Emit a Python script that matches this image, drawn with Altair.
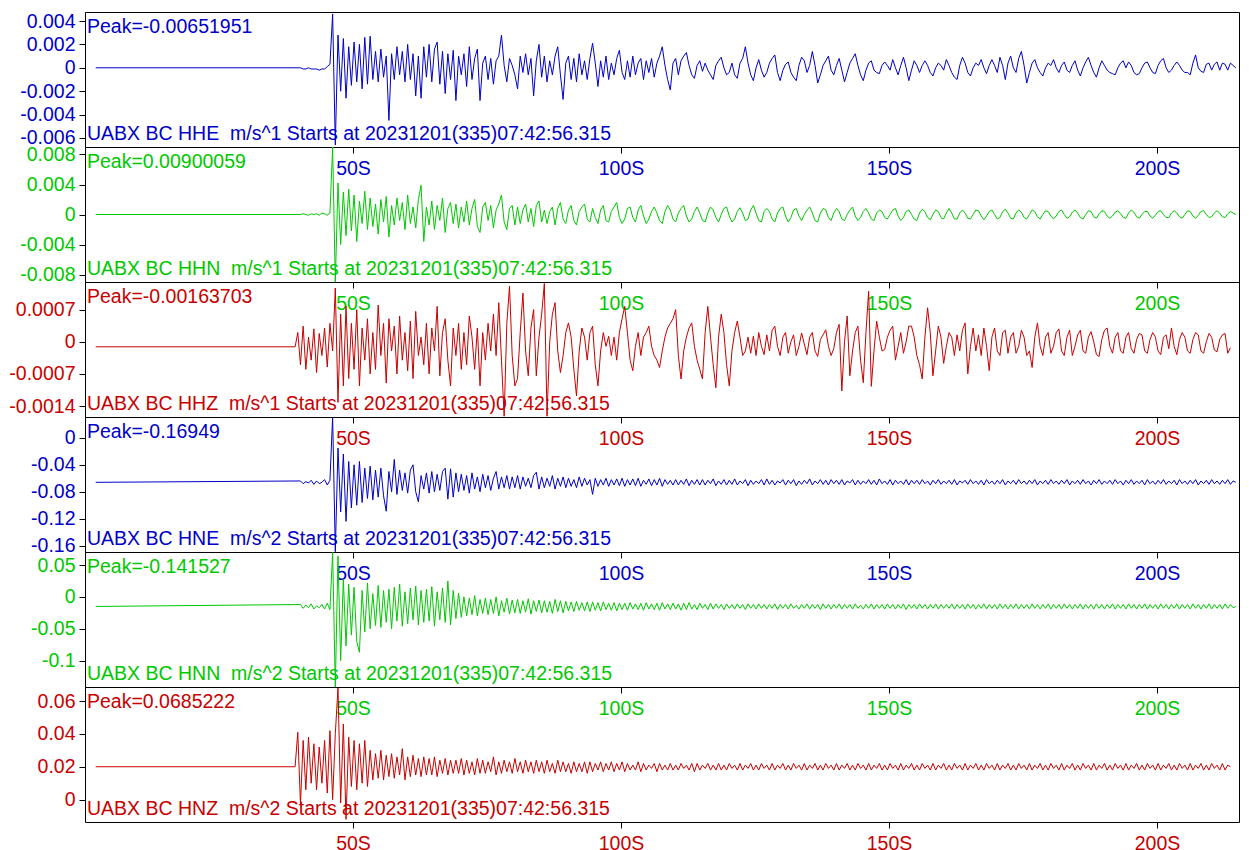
import altair as alt
import pandas as pd

FONT = "Liberation Sans"
FS = 19.5

PANEL_W = 1154
PANEL_H = 135
T_MAX = 215.3          # seconds shown on the x axis
T_FIRST = 2.0          # first sample of the record
DT = 0.5
X_TICKS = [50, 100, 150, 200]

STATION = "UABX BC"
START_TEXT = "Starts at 20231201(335)07:42:56.315"

CHANNELS = ["HHE", "HHN", "HHZ", "HNE", "HNN", "HNZ"]
UNITS = ["m/s^1", "m/s^1", "m/s^1", "m/s^2", "m/s^2", "m/s^2"]
PEAKS = ["-0.00651951", "0.00900059", "-0.00163703", "-0.16949", "-0.141527", "0.0685222"]
COLORS = ["#0000C8", "#00C800", "#C80000", "#0000C8", "#00C800", "#C80000"]
ONSETS = [40.2, 40.2, 39.2, 40.2, 40.2, 39.2]
BASELINES = [0, 0, -11, -66, -15, 20]           # pre-event level, scaled units
SCALES = [1e-4, 1e-4, 1e-5, 1e-3, 1e-3, 1e-3]   # scaled unit -> physical unit
Y_DOMAINS = [
    [-0.00677, 0.00477],
    [-0.0090, 0.0090],
    [-0.001637, 0.00130],
    [-0.16949, 0.031],
    [-0.141527, 0.0705],
    [-0.0136, 0.0685222],
]
Y_TICKS = [
    [0.004, 0.002, 0, -0.002, -0.004, -0.006],
    [0.008, 0.004, 0, -0.004, -0.008],
    [0.0007, 0, -0.0007, -0.0014],
    [0, -0.04, -0.08, -0.12, -0.16],
    [0.05, 0, -0.05, -0.1],
    [0.06, 0.04, 0.02, 0],
]

HHE_VALS = [
    0, -1, -1, 0, -1, -1, -1, -2, -1, -1,
    1, 3, 46, -66, 28, -20, 25, -26, 18, -15,
    22, -12, 20, -18, 26, -14, 27, -10, 14, -12,
    16, -8, 10, -45, 12, -10, 18, -6, 14, -12,
    20, -10, 12, -24, 10, -26, 18, -8, 20, -12,
    16, 22, -14, 14, -22, 12, -10, 15, -28, 10,
    -6, 12, -16, 18, -10, 8, 16, -28, 4, 10,
    -10, 8, -14, 6, 10, 28, 2, -12, 8, 2,
    -6, -18, 10, -4, 12, -6, 8, -24, 6, 20,
    -8, 10, -12, 6, -6, 10, 18, -6, -27, 4,
    10, -10, 8, -12, 12, -6, 6, -10, 8, 21,
    4, -16, 6, -8, 10, -10, 4, -6, 8, 15,
    -4, -10, 6, -8, 10, -6, 4, 8, -10, 6,
    -4, 8, -8, 4, 10, 18, 2, -10, -19, 4,
    8, -6, 6, 10, 13, 2, -6, -9, 2, 6,
    -3, 4, -2, -6, -10, 2, 6, 9, 0, -6,
    -4, 4, -6, -9, 4, 8, 18, 4, -6, -11,
    0, 7, -2, -8, -4, 4, 8, 11, -4, -11,
    -2, 3, 5, -4, -8, -11, 2, 9, 6, -4,
    2, 14, 2, -13, -6, 2, 6, 10, -2, -6,
    2, 8, -2, -12, -4, 4, 8, 12, 2, -6,
    -11, -2, 4, 6, -2, -4, -5, 2, 5, 2,
    -2, 7, 0, -6, 2, 9, 0, -11, -2, 6,
    2, -4, 2, 6, 2, -4, -7, 0, 4, 2,
    -2, 7, 2, -4, -8, -10, 2, 9, 4, -4,
    -7, 0, 4, 2, 7, 0, -5, 2, 7, 2,
    -4, 9, 2, -10, 4, 10, 0, -4, 8, 14,
    2, -13, -4, 4, 7, 0, -4, -7, 0, 4,
    2, 7, 0, -4, 2, 5, -2, -4, 2, 6,
    -2, -7, 0, 5, 9, 2, -4, -8, 0, 6,
    2, -2, -4, -5, -6, 0, 4, 6, 0, 5,
    2, -4, -6, -5, 0, 4, 5, 0, -4, -5,
    2, 6, 8, 0, -4, -2, 2, 5, 2, -2,
    -4, -4, -6, 4, 11, 0, -3, -4, 3, 4,
    -2, 3, 5, -2, 4, 3, -2, 4, 2, 0,
]
HHN_VALS = [
    0, 1, 0, -1, 1, 0, 1, -1, 2, 1,
    -1, 2, 90, -90, 42, -40, 30, -28, 34, -22,
    26, -36, 18, -12, 31, -20, 22, -16, 14, -26,
    20, -10, 24, -30, 12, -14, 22, -8, 16, -20,
    26, -12, 10, -18, 20, 39, -36, 10, -14, 18,
    -20, 12, -8, 22, -24, 8, 16, -12, 14, -18,
    10, -10, 18, -14, 8, 20, -16, -24, 10, 16,
    -8, 12, -18, 6, 14, 26, -10, -20, 8, 12,
    -14, 10, -12, 6, 14, -10, 8, -16, 12, 18,
    -10, 6, -12, 4, 10, -14, 8, 16, -6, -12,
    6, 12, -8, -14, 4, 10, 14, -6, -10, 8,
    -4, -12, 6, 12, -8, -10, 4, 10, 16, -4,
    -12, -6, 8, 10, -4, -10, 6, 12, -2, -12,
    -6, 4, 10, 2, -8, -12, 4, 12, 6, -6,
    -10, 2, 8, 12, -2, -10, -6, 4, 10, 2,
    -8, -10, 2, 10, 6, -4, -10, 0, 8, 10,
    -2, -10, -6, 4, 9, 2, -8, -6, 6, 12,
    2, -8, -10, 4, 8, 4, -6, -10, 2, 8,
    10, -2, -10, -4, 6, 8, -2, -8, 0, 6,
    10, 2, -8, -10, 2, 8, 6, -4, -8, 2,
    8, 4, -6, -8, 0, 6, 10, -2, -8, -4,
    4, 8, 2, -6, -8, 2, 6, 4, -4, -6,
    0, 6, 8, -2, -8, -4, 4, 6, 0, -6,
    -8, 2, 7, 4, -4, -7, 0, 6, 4, -4,
    -6, 2, 8, 2, -6, -6, 2, 6, 2, -5,
    -6, 0, 6, 5, -2, -7, -2, 4, 6, 0,
    -6, -4, 4, 7, 2, -5, -6, 2, 6, 3,
    -4, -6, 0, 6, 4, -3, -6, 0, 5, 4,
    -2, -6, -2, 4, 6, 0, -5, -3, 3, 6,
    2, -4, -6, 0, 5, 4, -3, -5, 1, 5,
    4, -2, -5, -2, 3, 5, 1, -4, -5, 2,
    6, 3, -3, -5, 0, 4, 4, -2, -5, -1,
    4, 5, 0, -4, -4, 2, 5, 2, -3, -5,
    0, 5, 4, -2, -5, -1, 4, 5, 0, -4,
    -3, 2, 5, 2, -3, -4, 1, 4, 2, 0,
]
HHZ_VALS = [
    -11, 20, -50, 34, -60, 10, -40, 28, -67, 18,
    -30, 30, -55, 40, -20, 117, -132, 60, -96, 77,
    -80, 40, -60, 70, -96, 30, -40, 50, -70, 20,
    -60, 80, -30, 40, -90, 50, -20, 34, -70, 56,
    -40, 20, -63, 45, -80, 66, -30, 10, -50, 40,
    -70, 30, -20, 77, -74, 20, 50, -40, -96, 30,
    -30, 40, -60, 20, -50, 56, 10, -60, 30, -96,
    20, -40, 40, -20, 60, -30, 85, -40, -162, 40,
    121, -30, -96, -80, 20, 106, -20, -74, 30, 70,
    -74, 10, 60, 127, -162, 0, 60, 85, -20, -67,
    -30, 20, 41, 10, -60, -118, -20, 30, 10, -40,
    20, 34, -50, -96, -20, 20, -10, 12, -30, 10,
    -40, 20, 50, 77, 20, -40, -63, -10, 20, -30,
    10, 20, 34, -10, -30, -40, -56, -20, 10, 30,
    40, 50, 70, -30, -81, -20, 10, 30, 41, -10,
    -40, -60, -81, 20, 77, 10, -50, -100, 10, 60,
    20, -50, -96, -20, 20, 45, 10, -30, -20, 10,
    -25, 12, -30, 20, -10, -28, 15, -20, 25, 34,
    -10, -30, 10, 20, -25, 0, 15, -30, -10, 19,
    -5, -28, 10, 20, -20, -32, 5, 15, 26, -10,
    -30, -15, 20, 38, -107, 0, 56, -74, -20, 20,
    34, -40, -89, 20, 110, -97, -20, 45, 10, -20,
    -17, 10, 25, 34, -40, -10, 20, -25, 0, 34,
    34, 10, -30, -50, -81, 10, 74, 20, -74, -20,
    34, 10, -47, -10, 20, 10, -30, 15, -20, 25,
    41, -70, -10, 30, -20, 15, -30, 30, -10, -63,
    10, 30, -20, -30, 20, 25, -25, 10, 20, -25,
    -10, 25, 10, -30, -20, -56, 10, 41, -10, -30,
    10, 20, -25, -10, 20, 28, -20, -30, 10, 25,
    -30, -10, 15, 25, -20, -25, 10, 22, 0, -28,
    -32, 5, 25, 30, -10, -25, 10, 20, -20, -25,
    10, 20, -15, -25, 5, 18, 15, -20, -25, 5,
    20, 10, -20, -28, 10, 15, -15, 30, -10, -28,
    5, 20, 10, -20, -25, 5, 20, 15, -20, -25,
    0, 18, 10, -18, -22, 5, 15, 18, -25, -13,
]
HNE_VALS = [
    -64, -68, -65, -67, -63, -69, -64, -68, -66, -62,
    -70, -63, 31, -169, -15, -110, -24, -124, -35, -104,
    -40, -100, -35, -96, -45, -90, -42, -92, -48, -88,
    -45, -86, -109, -50, -80, -32, -84, -48, -78, -52,
    -82, -48, -40, -80, -95, -56, -76, -52, -82, -50,
    -80, -54, -78, -50, -45, -91, -46, -88, -52, -80,
    -54, -78, -56, -82, -52, -76, -58, -80, -54, -74,
    -56, -78, -60, -50, -76, -58, -74, -56, -76, -58,
    -74, -56, -76, -58, -72, -60, -74, -56, -51, -76,
    -58, -74, -60, -72, -56, -76, -60, -72, -58, -74,
    -60, -72, -62, -74, -58, -72, -60, -70, -62, -84,
    -60, -72, -62, -70, -60, -72, -62, -70, -61, -71,
    -60, -72, -62, -70, -61, -71, -60, -72, -63, -69,
    -61, -71, -62, -70, -60, -72, -62, -69, -63, -70,
    -62, -70, -63, -69, -61, -71, -63, -69, -62, -70,
    -62, -70, -63, -68, -61, -71, -64, -69, -62, -70,
    -63, -69, -61, -70, -64, -68, -62, -71, -63, -69,
    -64, -68, -62, -70, -61, -69, -63, -70, -64, -67,
    -62, -70, -63, -68, -62, -71, -64, -69, -63, -68,
    -61, -70, -64, -68, -62, -69, -63, -70, -62, -68,
    -63, -69, -62, -70, -64, -67, -62, -70, -63, -69,
    -64, -68, -62, -69, -63, -70, -61, -68, -64, -69,
    -62, -70, -63, -68, -64, -69, -62, -70, -63, -68,
    -63, -69, -62, -68, -64, -70, -63, -68, -62, -69,
    -64, -68, -63, -69, -62, -70, -64, -67, -63, -69,
    -62, -68, -64, -69, -63, -70, -62, -68, -64, -69,
    -63, -68, -62, -70, -64, -68, -63, -69, -62, -68,
    -64, -69, -63, -68, -62, -70, -64, -68, -63, -69,
    -62, -68, -64, -69, -63, -68, -62, -70, -64, -68,
    -63, -69, -62, -68, -64, -70, -63, -68, -62, -69,
    -64, -68, -63, -69, -62, -68, -64, -70, -63, -68,
    -62, -69, -64, -68, -63, -70, -62, -68, -64, -69,
    -63, -68, -62, -69, -64, -68, -63, -70, -62, -68,
    -64, -69, -63, -68, -62, -70, -64, -68, -63, -69,
    -62, -68, -64, -69, -63, -68, -62, -69, -64, -66,
]
HNN_VALS = [
    -12, -18, -13, -17, -11, -19, -14, -17, -12, -19,
    -10, -20, 70, -142, 64, -100, 28, -77, 20, -60,
    15, -70, -87, 10, -55, 22, -50, 5, -45, 18,
    -48, 10, -40, 12, -50, 15, -38, 20, -46, 8,
    -42, 14, -36, 17, -44, 10, -40, 12, -38, 16,
    -46, 8, -36, 14, -40, 25, -44, 10, -34, 6,
    -32, 0, -30, -2, -28, 2, -30, -4, -26, -2,
    -28, -4, -26, 0, -30, -6, -24, -2, -27, -5,
    -25, -4, -26, -6, -24, -3, -27, -6, -23, -5,
    -25, -6, -24, -7, -26, -4, -23, -6, -25, -7,
    -22, -8, -23, -7, -21, -9, -22, -8, -23, -8,
    -21, -9, -22, -8, -20, -10, -21, -9, -22, -10,
    -20, -10, -21, -9, -19, -11, -20, -10, -21, -9,
    -19, -11, -20, -10, -21, -9, -19, -11, -20, -10,
    -19, -11, -21, -10, -20, -9, -19, -12, -20, -10,
    -18, -12, -20, -10, -19, -11, -18, -12, -20, -11,
    -18, -12, -19, -11, -18, -12, -20, -11, -18, -12,
    -19, -11, -18, -12, -19, -12, -18, -11, -20, -12,
    -18, -12, -19, -11, -18, -13, -19, -12, -18, -11,
    -19, -12, -18, -12, -20, -11, -18, -12, -19, -12,
    -18, -11, -19, -12, -18, -12, -19, -11, -18, -13,
    -19, -12, -18, -11, -19, -12, -18, -12, -19, -11,
    -18, -12, -19, -12, -18, -11, -20, -12, -18, -12,
    -19, -11, -18, -12, -19, -12, -18, -11, -19, -12,
    -18, -12, -18, -11, -19, -12, -18, -12, -19, -11,
    -18, -12, -19, -12, -18, -11, -19, -12, -18, -12,
    -19, -11, -18, -12, -19, -12, -18, -11, -19, -12,
    -18, -12, -19, -11, -18, -12, -19, -12, -18, -11,
    -19, -12, -18, -12, -19, -11, -18, -12, -19, -12,
    -18, -11, -19, -12, -18, -12, -19, -11, -18, -12,
    -19, -12, -18, -11, -19, -12, -18, -12, -19, -11,
    -18, -12, -19, -12, -18, -11, -19, -12, -18, -12,
    -19, -11, -18, -12, -19, -12, -18, -11, -19, -12,
    -18, -12, -19, -11, -18, -12, -19, -12, -18, -11,
    -19, -12, -18, -12, -19, -11, -18, -12, -17, -15,
]
HNZ_VALS = [
    20, 41, -3, 36, 6, 38, 10, 34, 6, 32,
    10, 36, 4, 42, 0, 40, 68, -2, 46, -12,
    38, 8, 36, 6, 34, 10, 36, 8, 30, 12,
    28, 13, 30, 12, 27, 14, 28, 13, 26, 15,
    31, 12, 26, 14, 27, 15, 25, 14, 26, 15,
    25, 15, 26, 14, 24, 16, 25, 15, 24, 16,
    24, 16, 25, 15, 24, 16, 23, 15, 25, 16,
    24, 16, 23, 17, 26, 15, 23, 16, 24, 17,
    23, 16, 25, 17, 23, 16, 24, 17, 23, 16,
    24, 17, 23, 16, 24, 17, 22, 16, 24, 17,
    23, 17, 22, 16, 23, 17, 22, 17, 23, 16,
    23, 17, 22, 18, 23, 17, 22, 18, 23, 17,
    22, 18, 23, 17, 22, 18, 21, 18, 23, 17,
    22, 18, 21, 19, 22, 17, 22, 18, 21, 18,
    22, 18, 21, 18, 22, 19, 21, 18, 22, 17,
    22, 18, 21, 19, 22, 18, 21, 18, 22, 18,
    21, 18, 22, 19, 21, 18, 22, 18, 21, 19,
    22, 18, 21, 18, 22, 19, 21, 18, 22, 18,
    21, 19, 22, 18, 21, 18, 22, 19, 21, 18,
    22, 18, 21, 19, 22, 18, 21, 18, 22, 19,
    21, 18, 22, 18, 21, 19, 22, 18, 21, 18,
    22, 19, 21, 18, 22, 18, 21, 19, 22, 18,
    21, 18, 22, 19, 21, 18, 22, 18, 21, 19,
    22, 18, 21, 18, 22, 19, 21, 18, 22, 18,
    21, 19, 22, 18, 21, 18, 22, 19, 21, 18,
    22, 18, 21, 19, 22, 18, 21, 18, 22, 19,
    21, 18, 22, 18, 21, 19, 22, 18, 21, 18,
    22, 19, 21, 18, 22, 18, 21, 19, 22, 18,
    21, 18, 22, 19, 21, 18, 22, 18, 21, 19,
    22, 18, 21, 18, 22, 19, 21, 18, 22, 18,
    21, 19, 22, 18, 21, 18, 22, 19, 21, 18,
    22, 18, 21, 19, 22, 18, 21, 18, 22, 19,
    21, 18, 22, 18, 21, 19, 22, 18, 21, 18,
    22, 19, 21, 18, 22, 18, 21, 19, 22, 18,
    21, 18, 22, 19, 21, 18, 22, 18, 21, 20,
]
VALUES = [HHE_VALS, HHN_VALS, HHZ_VALS, HNE_VALS, HNN_VALS, HNZ_VALS]


def make_panel(k):
    color = COLORS[k]
    s = SCALES[k]
    vals = VALUES[k]
    t = [T_FIRST] + [ONSETS[k] + DT * i for i in range(len(vals))]
    v = [BASELINES[k] * s] + [x * s for x in vals]
    df = pd.DataFrame({"t": t, "v": v})

    line = alt.Chart(df).mark_line(color=color, strokeWidth=1, clip=True).encode(
        x=alt.X(
            "t:Q",
            scale=alt.Scale(domain=[0, T_MAX], nice=False, zero=False),
            axis=alt.Axis(
                values=X_TICKS, labelExpr="datum.value + 'S'", title=None, grid=False,
                domain=False, tickColor="black", tickSize=6, tickWidth=1,
                labelColor=color, labelFont=FONT, labelFontSize=FS, labelPadding=6,
                labelFlush=False, labelOverlap=False,
            ),
        ),
        y=alt.Y(
            "v:Q",
            scale=alt.Scale(domain=Y_DOMAINS[k], nice=False, zero=False),
            axis=alt.Axis(
                values=Y_TICKS[k], labelExpr="'' + datum.value", title=None, grid=False,
                domain=False, tickColor="black", tickSize=6, tickWidth=1,
                labelColor=color, labelFont=FONT, labelFontSize=FS, labelPadding=4,
                labelFlush=False, labelOverlap=False,
            ),
        ),
    )

    peak = alt.Chart(pd.DataFrame({"s": ["Peak=" + PEAKS[k]]})).mark_text(
        align="left", baseline="alphabetic", font=FONT, fontSize=FS, color=color
    ).encode(x=alt.value(2), y=alt.value(21), text="s:N")

    label_text = f"{STATION} {CHANNELS[k]}\u00a0 {UNITS[k]} {START_TEXT}"
    label = alt.Chart(pd.DataFrame({"s": [label_text]})).mark_text(
        align="left", baseline="alphabetic", font=FONT, fontSize=FS, color=color
    ).encode(x=alt.value(2), y=alt.value(128), text="s:N")

    return alt.layer(line, peak, label).properties(width=PANEL_W, height=PANEL_H)


chart = alt.vconcat(
    *[make_panel(k) for k in range(6)], spacing=0, bounds="flush"
).properties(
    padding={"left": 0, "top": 2, "right": 0, "bottom": 0},
    background="white",
).configure_view(stroke="black", strokeWidth=1)

chart.save("out.html", embed_options={"renderer": "svg", "actions": False})
